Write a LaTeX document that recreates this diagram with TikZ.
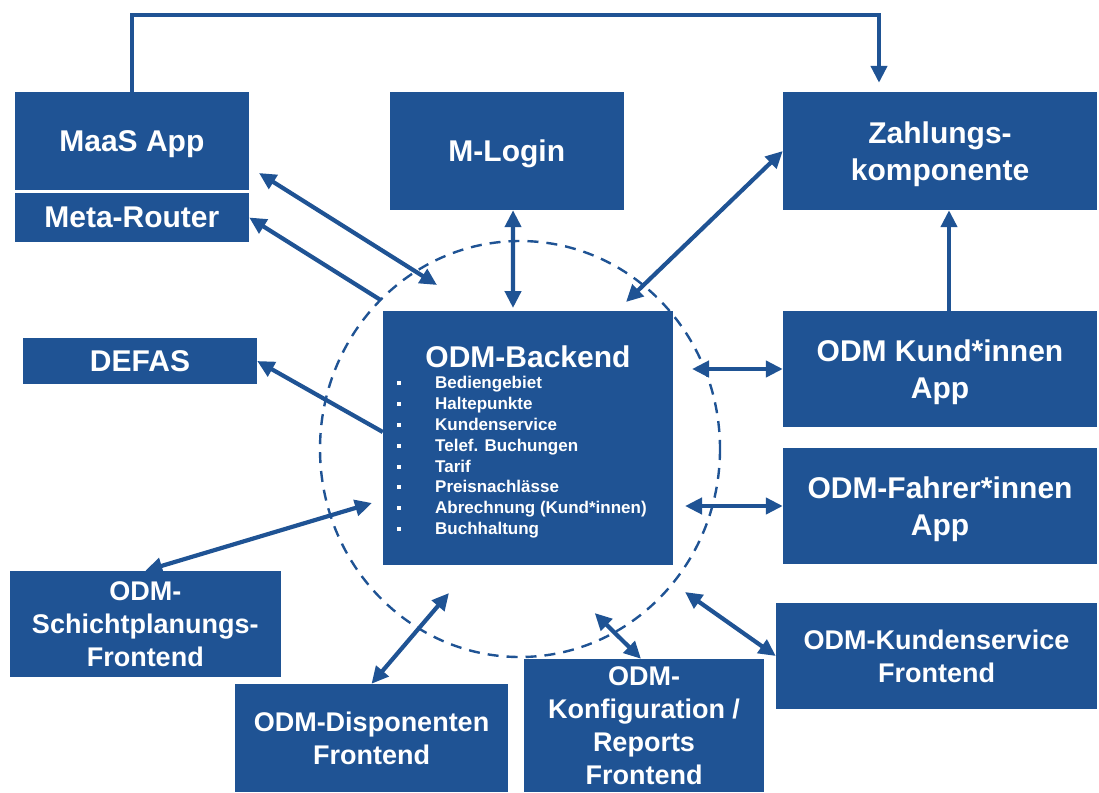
\documentclass[tikz,border=0pt]{standalone}
\usepackage{fontspec}
\setmainfont{Liberation Sans}
\usetikzlibrary{arrows.meta}
\definecolor{odmblue}{HTML}{1F5394}
\newcommand{\bkitem}[1]{\makebox[38pt][l]{\rule[3.5pt]{4pt}{4pt}}#1}

\begin{document}
\begin{tikzpicture}[
  x=1pt, y=-1pt,
  every node/.style={font=\bfseries},
  bigbox/.style={rectangle, fill=odmblue, text=white, inner sep=0pt, align=center, text depth=0pt, font=\bfseries\fontsize{30}{36.5}\selectfont},
  smallbox/.style={bigbox, font=\bfseries\fontsize{27}{33}\selectfont},
  itemtext/.style={text=white, inner sep=0pt, align=left, font=\bfseries\fontsize{17}{20.8}\selectfont},
  ring/.style={draw=odmblue, line width=2.4pt, dash pattern=on 11pt off 8pt},
  link/.style={draw=odmblue, line width=4.2pt},
  onehead/.style={link, -{Triangle[length=17pt, width=16pt]}},
  twohead/.style={link, {Triangle[length=17pt, width=16pt]}-{Triangle[length=17pt, width=16pt]}},
]
\useasboundingbox (0,0) rectangle (1099,792);

% Dashed ring round the backend
\draw[ring] (520,449) ellipse [x radius=200, y radius=208];

% Top row
\node[bigbox, minimum width=234.3, minimum height=98] (maas) at (131.85,141) {MaaS App};
\node[bigbox, minimum width=234.3, minimum height=49] (meta) at (131.85,217.5) {Meta-Router};
\node[bigbox, minimum width=233.5, minimum height=118] (mlogin) at (506.75,151) {M-Login};
\node[bigbox, minimum width=314, minimum height=118] (zahl) at (940,151) {Zahlungs-\\komponente};

% Left side
\node[bigbox, minimum width=234, minimum height=46] (defas) at (140,361) {DEFAS};
\node[smallbox, minimum width=271.5, minimum height=106] (schicht) at (145.25,624) {ODM-\\Schichtplanungs-\\Frontend};

% Backend
\node[bigbox, minimum width=290, minimum height=254] (backend) at (528,438) {};
\node[bigbox] (bktitle) at (528,357) {ODM-Backend};
\node[itemtext, anchor=north west] (bklist) at (397,376.3) {%
  \bkitem{Bediengebiet}\\
  \bkitem{Haltepunkte}\\
  \bkitem{Kundenservice}\\
  \bkitem{Telef. Buchungen}\\
  \bkitem{Tarif}\\
  \bkitem{Preisnachlässe}\\
  \bkitem{Abrechnung (Kund*innen)}\\
  \bkitem{Buchhaltung}};

% Right side
\node[bigbox, minimum width=314, minimum height=116] (kund) at (940,369) {ODM Kund*innen\\App};
\node[bigbox, minimum width=314, minimum height=116] (fahrer) at (940,506) {ODM-Fahrer*innen\\App};
\node[smallbox, minimum width=321, minimum height=106] (kservice) at (936.5,656) {ODM-Kundenservice\\Frontend};

% Bottom row
\node[smallbox, minimum width=273, minimum height=108] (dispo) at (371.5,738) {ODM-Disponenten\\Frontend};
\node[smallbox, minimum width=240, minimum height=133] (konfig) at (644,725.5) {ODM-\\Konfiguration /\\Reports\\Frontend};

% Free ends on the ring
\coordinate (railR) at (879,15);
\coordinate (maasTip) at (259,173);
\coordinate (ringMaas) at (437,285);
\coordinate (ringMeta) at (380.6,300);
\coordinate (bkLogin) at (513,308);
\coordinate (bkZahl) at (626,302);
\coordinate (bkKund) at (692,369);
\coordinate (bkFahrer) at (685,506);
\coordinate (ringService) at (685,592);
\coordinate (ringKonfig) at (594.7,613);
\coordinate (ringDispo) at (449,593);
\coordinate (bkSchicht) at (372,503);

% Connections
\draw[onehead, shorten >=9pt] (maas.north) |- (railR) -- (railR |- zahl.north);
\draw[twohead] (maasTip) -- (ringMaas);
\draw[onehead] (ringMeta) -- (meta.east);
\draw[twohead] ([xshift=6.3pt]mlogin.south) -- (bkLogin);
\draw[twohead] (zahl.west) -- (bkZahl);
\draw[onehead] ([xshift=9pt]kund.north) -- ([xshift=9pt]zahl.south);
\draw[twohead] (bkKund) -- (kund.west);
\draw[twohead] (bkFahrer) -- (fahrer.west);
\draw[twohead] (ringService) -- (kservice.west);
\draw[twohead] (ringKonfig) -- ([xshift=-3pt]konfig.north);
\draw[twohead] (ringDispo) -- (dispo.north);
\draw[twohead] (bkSchicht) -- (schicht.north);
\draw[onehead] ([yshift=6pt]backend.west) -- (defas.east);

\end{tikzpicture}
\end{document}
